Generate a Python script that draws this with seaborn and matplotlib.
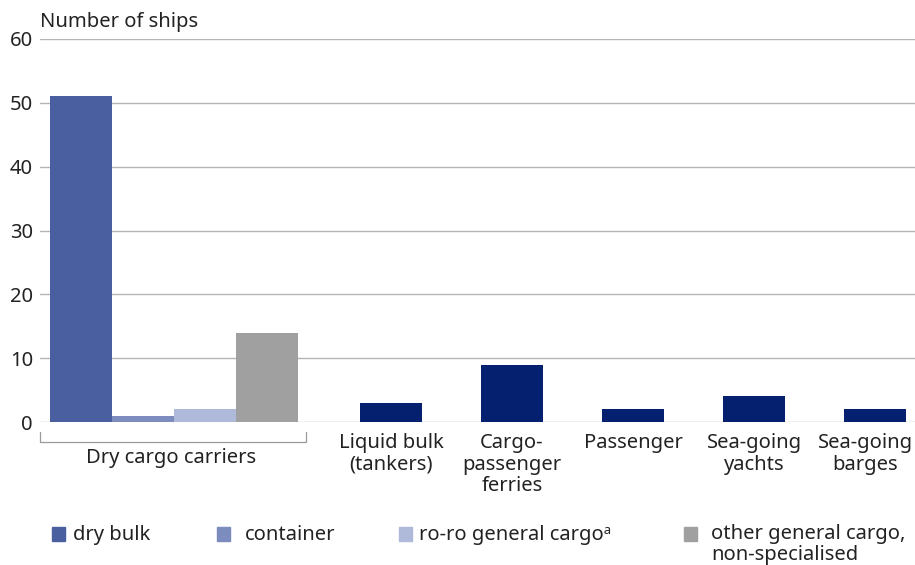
import numpy as np
import pandas as pd
import seaborn as sns
import matplotlib.pyplot as plt
from matplotlib.patches import Rectangle

# data
dry_types = ["dry bulk", "container", "ro-ro general cargo", "other general cargo"]
dry_values = [51, 1, 2, 14]
other_cats = ["Liquid bulk\n(tankers)", "Cargo-\npassenger\nferries", "Passenger",
              "Sea-going\nyachts", "Sea-going\nbarges"]
other_values = [3, 9, 2, 4, 2]
legend_labels = ["dry bulk", "container", "ro-ro general cargo\u1d43",
                 "other general cargo,\nnon-specialised"]
yticks = [0, 10, 20, 30, 40, 50, 60]

colors = {"dry bulk": "#4a5fa0", "container": "#7d8cbf",
          "ro-ro general cargo": "#afb9d9", "other general cargo": "#a0a0a0",
          "single": "#04206e"}

sns.set_theme(style="white")
plt.rcParams["font.family"] = ["Noto Sans", "DejaVu Sans"]
fs = 14.5
txt_c = "#222222"

# layout in "category slot" units
bar_w = 0.512
dry_left = 0.083
dry_pos = [dry_left + bar_w * (i + 0.5) for i in range(len(dry_types))]
single_pos = [2.9 + i for i in range(len(other_cats))]

df = pd.DataFrame({
    "pos": dry_pos + single_pos,
    "n": dry_values + other_values,
    "type": dry_types + ["single"] * len(other_cats),
})

fig = plt.figure(figsize=(9.15, 5.65), dpi=100)
ax = fig.add_axes([40 / 915, 1 - 422 / 565, 1 - 40 / 915, (422 - 39) / 565])

sns.barplot(data=df, x="pos", y="n", hue="type", native_scale=True, width=1,
            dodge=False, palette=colors, saturation=1, errorbar=None, legend=False,
            linewidth=0, ax=ax)

ax.set_xlim(0, 7.23)
ax.set_ylim(0, 60)
ax.set_yticks(yticks)
ax.tick_params(axis="y", labelsize=fs, length=0, pad=5, colors=txt_c)
ax.yaxis.grid(True, color="#b4b4b4", linewidth=1)
ax.set_axisbelow(True)
for s in ax.spines.values():
    s.set_visible(False)
ax.set_xticks([])
ax.set_xlabel("")
ax.set_ylabel("")

fig.text(40 / 915, 1 - 22 / 565, "Number of ships", fontsize=fs, color=txt_c,
         ha="left", va="center")

# category labels (last one nudged left so it fits inside the figure)
label_pos = single_pos[:-1] + [single_pos[-1] - 0.08]
for p, lab in zip(label_pos, other_cats):
    ax.text(p, -1.8, lab, ha="center", va="top", fontsize=fs, color=txt_c,
            linespacing=1.1, clip_on=False)
ax.text(1.08, -4.0, "Dry cargo carriers", ha="center",
        va="top", fontsize=fs, color=txt_c, clip_on=False)

# bracket under dry cargo group
yb_top, yb_bot = -1.6, -3.1
x0, x1 = 0.0, 2.2
ax.plot([x0, x0, x1, x1], [yb_top, yb_bot, yb_bot, yb_top], color="#9a9a9a",
        linewidth=0.9, clip_on=False)

# legend
leg_x = [52, 217, 399, 684]
leg_tx = [73, 245, 419, 711]
for i, t in enumerate(dry_types):
    fig.patches.append(Rectangle((leg_x[i] / 915, 1 - 541 / 565), 13 / 915, 14 / 565,
                                 transform=fig.transFigure, color=colors[t]))
    two = "\n" in legend_labels[i]
    fig.text(leg_tx[i] / 915, 1 - (524 if two else 535) / 565, legend_labels[i],
             fontsize=fs, color=txt_c, ha="left", va="top" if two else "center",
             linespacing=1.08)

fig.savefig("out.png", dpi=100)
